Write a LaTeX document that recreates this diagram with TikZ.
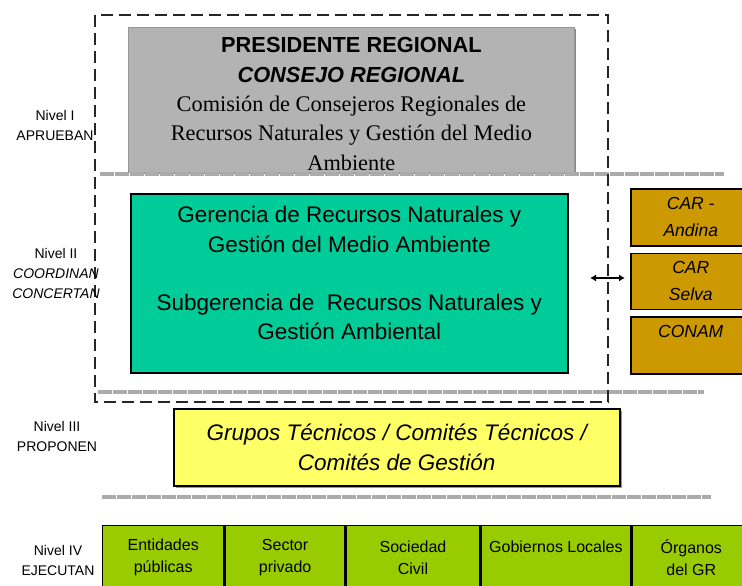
\documentclass[tikz,border=0pt]{standalone}
\usepackage{fontspec}
\setmainfont{Liberation Sans}
\newfontfamily\serifrm{Liberation Serif}
\usetikzlibrary{positioning,shadows,arrows.meta}
\definecolor{grisCR}{RGB}{179,179,179}
\definecolor{bordeGris}{RGB}{150,150,150}
\definecolor{verdeGer}{RGB}{0,204,153}
\definecolor{ocreCAR}{RGB}{204,153,0}
\definecolor{amarilloGT}{RGB}{255,255,102}
\definecolor{verdeEje}{RGB}{153,204,0}
\tikzset{
    marco/.style={draw=black!85, line width=1.2pt, dash pattern=on 12pt off 6pt},
    separa/.style={draw=black!33, line width=3.5pt, dash pattern=on 14pt off 1pt},
    nivel/.style={font=\fontsize{14}{20}\selectfont, align=center, inner sep=0pt},
    cajaGris/.style={fill=grisCR, draw=bordeGris, line width=0.8pt,
        drop shadow={shadow xshift=2pt, shadow yshift=-1.5pt, fill=black!45, opacity=1}},
    cajaVerde/.style={fill=verdeGer, draw=black, line width=1.6pt},
    cajaCAR/.style={fill=ocreCAR, draw=black, line width=1.5pt, align=center,
        font=\fontsize{17.5}{27}\selectfont\itshape},
    cajaGT/.style={fill=amarilloGT, draw=black, line width=1.5pt, align=center,
        font=\fontsize{22.5}{30}\selectfont\itshape,
        drop shadow={shadow xshift=2.5pt, shadow yshift=-2.5pt, fill=black!40, opacity=1}},
    celda/.style={fill=verdeEje, draw=black, line width=1.4pt, align=center, anchor=north west,
        minimum height=64, inner sep=0pt, font=\fontsize{16}{22}\selectfont},
    flecha/.style={{Latex[length=6pt,width=7pt]}-{Latex[length=6pt,width=7pt]}, line width=2pt}
}
\begin{document}
\begin{tikzpicture}[x=1pt,y=-1pt]
\useasboundingbox (0,0) rectangle (742,586);
% Nivel I
\node[cajaGris, minimum width=446, minimum height=145, anchor=north west] (consejo) at (128,27) {};
\node[align=center, font=\fontsize{22.3}{29.3}\selectfont\serifrm] (consejoTxt) at ([yshift=-4pt]consejo.center)
      {{\fontsize{21.8}{29.3}\selectfont\normalfont\bfseries PRESIDENTE REGIONAL}\\
       {\fontsize{21.8}{29.3}\selectfont\normalfont\bfseries\itshape CONSEJO REGIONAL}\\
       Comisión de Consejeros Regionales de\\
       Recursos Naturales y Gestión del Medio\\
       Ambiente};
% Nivel II
\node[cajaVerde, minimum width=437, minimum height=179, anchor=north west] (gerencia) at (130,193) {};
\node[align=center, font=\fontsize{22.5}{29.3}\selectfont] (gerenciaTxt) at ([yshift=10pt]gerencia.center)
      {Gerencia de Recursos Naturales y\\
       Gestión del Medio Ambiente\\
       \mbox{}\\
       Subgerencia de\ \ Recursos Naturales y\\
       Gestión Ambiental};
\node[cajaCAR, minimum width=120, minimum height=57, anchor=north west] (carAndina) at (630,188) {CAR -\\Andina};
\node[cajaCAR, minimum width=120, minimum height=56, below=6pt of carAndina] (carSelva) {CAR\\Selva};
\node[cajaCAR, minimum width=120, minimum height=57, below=6pt of carSelva] (conam) {CONAM\\\mbox{}};
\coordinate (flechaIzq) at (590,278);
\coordinate (flechaDer) at (625,278);
\draw[flecha] (flechaIzq) -- (flechaDer);
% Nivel III
\node[cajaGT, minimum width=446, minimum height=77, anchor=north west] (grupos) at (173,408)
      {Grupos Técnicos / Comités Técnicos /\\Comités de Gestión};
% Nivel IV
\node[celda, minimum width=121] (entidades) at (102,525) {Entidades\\públicas};
\node[celda, minimum width=120, right=0pt of entidades] (privado) {Sector\\privado};
\node[celda, minimum width=133, right=0pt of privado] (sociedad) {Sociedad\\Civil};
\node[celda, minimum width=150, right=0pt of sociedad] (gobiernos) {Gobiernos Locales\\\mbox{}};
\node[celda, minimum width=118, right=0pt of gobiernos] (organos) {Órganos\\del GR};
% separadores y marco
\draw[separa] (100,174) -- (724,174);
\draw[separa] (98,392) -- (704,392);
\draw[separa] (102,497) -- (711,497);
\draw[marco] (95,15) rectangle (608,402);
% niveles
\node[nivel] (nivelI) at (55,125) {Nivel I\\APRUEBAN};
\node[nivel] (nivelII) at (56,273.5) {Nivel II\\\itshape COORDINAN\\\itshape CONCERTAN};
\node[nivel] (nivelIII) at (57,436) {Nivel III\\PROPONEN};
\node[nivel] (nivelIV) at (58,560) {Nivel IV\\EJECUTAN};
\end{tikzpicture}
\end{document}
